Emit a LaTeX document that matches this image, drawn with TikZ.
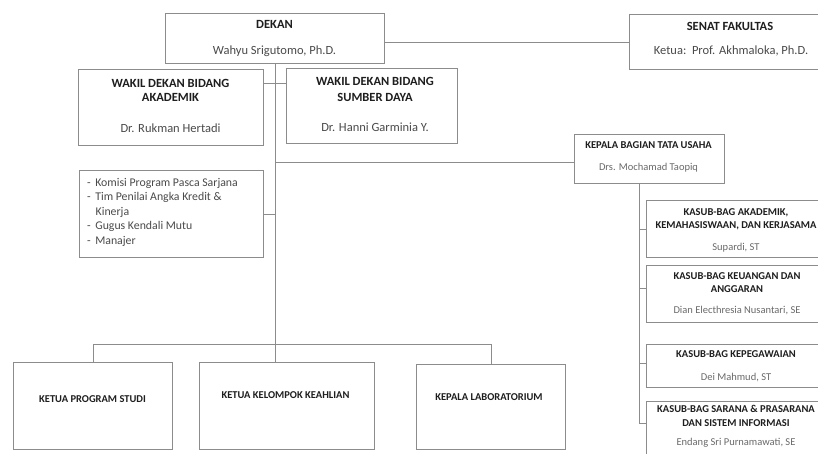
\documentclass[tikz,border=0pt]{standalone}
\usepackage{fontspec}
\setmainfont{Carlito}
\definecolor{ln}{HTML}{8C8C8C}
\definecolor{tx}{HTML}{1E1E1E}
\definecolor{nm}{HTML}{4A4A4A}
\definecolor{nm2}{HTML}{6A6A6A}
\begin{document}
\begin{tikzpicture}[x=1pt,y=-1pt,
  box/.style={draw=ln, line width=0.9pt, inner sep=0pt, anchor=north west},
  big/.style={font=\fontsize{12.5}{15}\selectfont, text=nm, inner sep=0pt, anchor=base},
  bigb/.style={font=\fontsize{12.5}{15}\selectfont\bfseries, text=tx, inner sep=0pt, anchor=base},
  lst/.style={font=\fontsize{11.8}{14}\selectfont, text=nm, inner sep=0pt, anchor=base west},
  sml/.style={font=\fontsize{10.5}{12.5}\selectfont, text=nm2, inner sep=0pt, anchor=base},
  smlb/.style={font=\fontsize{10.5}{12.5}\selectfont\bfseries, text=tx, inner sep=0pt, anchor=base},
  conn/.style={draw=ln, line width=0.9pt}]
\useasboundingbox (0,0) rectangle (818,453);
\clip (0,0) rectangle (818,453);
\fill[white] (0,0) rectangle (818,453);

% boxes
\node[box, minimum width=219pt, minimum height=50pt] (dekan) at (165,13) {};
\node[box, minimum width=204pt, minimum height=55pt] (senat) at (629,14) {};
\node[box, minimum width=185pt, minimum height=76pt] (wa) at (78,69) {};
\node[box, minimum width=171pt, minimum height=75pt] (ws) at (286,68) {};
\node[box, minimum width=150pt, minimum height=49pt] (ktu) at (574,134) {};
\node[box, minimum width=184pt, minimum height=87pt] (lst) at (79,170) {};
\node[box, minimum width=180pt, minimum height=57pt] (k1) at (646,200) {};
\node[box, minimum width=180pt, minimum height=57pt] (k2) at (646,265) {};
\node[box, minimum width=180pt, minimum height=43pt] (k3) at (646,344) {};
\node[box, minimum width=180pt, minimum height=69pt] (k4) at (646,401) {};
\node[box, minimum width=159pt, minimum height=87pt] (b1) at (13,362) {};
\node[box, minimum width=175pt, minimum height=87pt] (b2) at (199,362) {};
\node[box, minimum width=149pt, minimum height=85pt] (b3) at (416,364) {};

% connectors
\draw[conn] (senat.west) -- (senat.west -| dekan.east);
\draw[conn] (dekan.south) -- (dekan.south |- b2.north);
\coordinate (wj) at ([yshift=-14pt]wa.north east);
\draw[conn] (wj) -- (wj -| ws.west);
\coordinate (kj) at ([yshift=-3.5pt]ktu.west);
\draw[conn] (kj) -- (kj -| dekan.south);
\draw[conn] (lst.east) -- (lst.east -| dekan.south);
\coordinate (kv) at ([xshift=-10pt]ktu.south);
\coordinate (s1) at (k1.west);
\coordinate (s2) at ([yshift=5.5pt]k2.west);
\coordinate (s3) at ([yshift=2.5pt]k3.west);
\coordinate (s4) at ([yshift=12.5pt]k4.west);
\draw[conn] (kv) |- (s4);
\draw[conn] (s1 -| kv) -- (s1);
\draw[conn] (s2 -| kv) -- (s2);
\draw[conn] (s3 -| kv) -- (s3);
\draw[conn] (b1.north) -- ++(0,-18) -| (b3.north);

% texts
\node[bigb] (t1) at (274.5,28) {DEKAN};
\node[big] (t2) at (274.5,54) {Wahyu Srigutomo, Ph.D.};
\node[bigb] (t3) at (730,30) {SENAT FAKULTAS};
\node[big] (t4) at (731,54) {Ketua:~~Prof. Akhmaloka, Ph.D.};
\node[bigb] (t5) at (170.5,87) {WAKIL DEKAN BIDANG};
\node[bigb] (t6) at (170.5,101) {AKADEMIK};
\node[big] (t7) at (170.5,132) {Dr. Rukman Hertadi};
\node[bigb] (t8) at (375,85) {WAKIL DEKAN BIDANG};
\node[bigb] (t9) at (375,101) {SUMBER DAYA};
\node[big] (t10) at (375,131) {Dr. Hanni Garminia Y.};
\node[smlb] (t11) at (648.5,148.4) {KEPALA BAGIAN TATA USAHA};
\node[sml] (t12) at (648.5,170.4) {Drs. Mochamad Taopiq};

\node[lst] (l1) at (87,186) {-\hspace{4.5pt}Komisi Program Pasca Sarjana};
\node[lst] (l2) at (87,200) {-\hspace{4.5pt}Tim Penilai Angka Kredit \&};
\node[lst] (l3) at (95.5,215) {Kinerja};
\node[lst] (l4) at (87,229) {-\hspace{4.5pt}Gugus Kendali Mutu};
\node[lst] (l5) at (87,244) {-\hspace{4.5pt}Manajer};

\node[smlb] (k1a) at (736,215.5) {KASUB-BAG AKADEMIK,};
\node[smlb] (k1b) at (736,228) {KEMAHASISWAAN, DAN KERJASAMA};
\node[sml] (k1c) at (736,250.5) {Supardi, ST};
\node[smlb] (k2a) at (737,279.5) {KASUB-BAG KEUANGAN DAN};
\node[smlb] (k2b) at (737,292.5) {ANGGARAN};
\node[sml] (k2c) at (737,313.5) {Dian Electhresia Nusantari, SE};
\node[smlb] (k3a) at (736,357.5) {KASUB-BAG KEPEGAWAIAN};
\node[sml] (k3c) at (736,380.5) {Dei Mahmud, ST};
\node[smlb] (k4a) at (736,412.5) {KASUB-BAG SARANA \& PRASARANA};
\node[smlb] (k4b) at (736,426) {DAN SISTEM INFORMASI};
\node[sml] (k4c) at (736,445) {Endang Sri Purnamawati, SE};

\node[smlb] (bt1) at (92.5,402.4) {KETUA PROGRAM STUDI};
\node[smlb] (bt2) at (285.5,398.4) {KETUA KELOMPOK KEAHLIAN};
\node[smlb] (bt3) at (489,400.4) {KEPALA LABORATORIUM};
\end{tikzpicture}
\end{document}
